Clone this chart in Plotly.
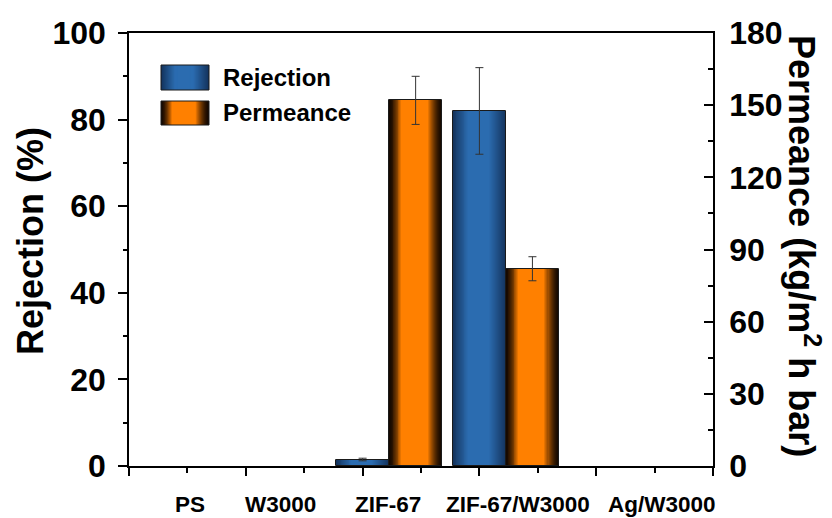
import plotly.graph_objects as go

# ---- data ----
categories = ["PS", "W3000", "ZIF-67", "ZIF-67/W3000", "Ag/W3000"]
rejection = [None, None, 1.5, 82, None]          # %
rejection_err = [None, None, 0.3, 10, None]
permeance = [None, None, 152, 82, None]          # kg/m2 h bar
permeance_err = [None, None, 10, 5, None]

# ---- styling ----
FONT = "Liberation Sans"
BAR_W = 0.454
cat_pos = list(range(len(categories)))
label_pos = [0.52, 1.30, 2.22, 3.33, 4.56]

BLUE_EDGE, BLUE_PEAK = (20, 52, 94), (43, 108, 176)
ORANGE_EDGE, ORANGE_PEAK = (22, 9, 0), (255, 128, 0)


def mix(c0, c1, t):
    return "rgb(%d,%d,%d)" % tuple(round(a + (b - a) * t) for a, b in zip(c0, c1))


def gradient_layers(edge, peak, peak_at, ramp, power, n=22):
    """Nested spans (left, right, colour) across [0, 1] giving a horizontal shading."""
    out = []
    for k in range(n):
        r = 0.75 * k / (n - 1)
        left = peak_at * r
        right = 1 - (1 - peak_at) * r
        t = min(1.0, r / ramp) ** power
        out.append((left, right, mix(edge, peak, t)))
    return out


blue_layers = gradient_layers(BLUE_EDGE, BLUE_PEAK, 0.47, 0.6, 1.0)
orange_layers = gradient_layers(ORANGE_EDGE, ORANGE_PEAK, 0.45, 0.5, 1.6)

fig = go.Figure()


def add_series(values, errors, layers, start, axis):
    for left, right, color in layers:
        fig.add_trace(go.Bar(
            x=cat_pos, y=values, yaxis=axis,
            width=BAR_W * (right - left), offset=start + BAR_W * left,
            marker=dict(color=color, line=dict(width=0)),
            showlegend=False, hoverinfo="skip",
        ))
    fig.add_trace(go.Bar(
        x=cat_pos, y=values, yaxis=axis,
        width=BAR_W, offset=start,
        marker=dict(color="rgba(0,0,0,0)", line=dict(color="#1a1a1a", width=1)),
        error_y=dict(type="data", array=errors, color="#333333", thickness=1, width=4),
        showlegend=False, hoverinfo="skip",
    ))


add_series(rejection, rejection_err, blue_layers, -BAR_W / 2, "y")
add_series(permeance, permeance_err, orange_layers, BAR_W / 2, "y2")

L, R, T, B = 129, 119, 33, 52
W, H = 832, 518
pw, ph = W - L - R, H - T - B


def px_x(x):
    return (x - L) / pw


def px_y(y):
    return (H - B - y) / ph


# legend drawn as shaded boxes with labels
shapes = []
legend_rows = [("Rejection", blue_layers, 65, 90), ("Permeance", orange_layers, 101, 125)]
bx0, bx1 = 161, 209
annotations = []
for name, layers, y0, y1 in legend_rows:
    for left, right, color in layers:
        shapes.append(dict(
            type="rect", xref="paper", yref="paper",
            x0=px_x(bx0 + (bx1 - bx0) * left), x1=px_x(bx0 + (bx1 - bx0) * right),
            y0=px_y(y1), y1=px_y(y0), fillcolor=color, line=dict(width=0), layer="above",
        ))
    shapes.append(dict(
        type="rect", xref="paper", yref="paper",
        x0=px_x(bx0), x1=px_x(bx1), y0=px_y(y1), y1=px_y(y0),
        fillcolor="rgba(0,0,0,0)", line=dict(color="#1a1a1a", width=1), layer="above",
    ))
    annotations.append(dict(
        text=name, xref="paper", yref="paper", x=px_x(221), y=px_y((y0 + y1) / 2),
        xanchor="left", yanchor="middle", showarrow=False,
        font=dict(family=FONT, size=24, color="black", weight="bold"),
    ))

for name, xp in zip(categories, label_pos):
    annotations.append(dict(
        text=name, xref="x", yref="paper", x=xp, y=px_y(504),
        xanchor="center", yanchor="middle", showarrow=False,
        font=dict(family=FONT, size=22.5, color="black", weight="bold"),
    ))

annotations.append(dict(
    text="Rejection (%)", xref="paper", yref="paper", x=px_x(30), y=px_y(241),
    xanchor="center", yanchor="middle", textangle=-90, showarrow=False,
    font=dict(family=FONT, size=36, color="black", weight="bold"),
))
annotations.append(dict(
    text="Permeance (kg/m<sup>2</sup> h bar)", xref="paper", yref="paper",
    x=px_x(804), y=px_y(246), xanchor="center", yanchor="middle",
    textangle=90, showarrow=False,
    font=dict(family=FONT, size=36, color="black", weight="bold"),
))

tickfont = dict(family=FONT, size=32, color="black", weight="bold")

fig.update_layout(
    width=W, height=H,
    margin=dict(l=L, r=R, t=T, b=B),
    paper_bgcolor="white", plot_bgcolor="white",
    barmode="overlay", bargap=0,
    showlegend=False,
    xaxis=dict(
        range=[0, 5], showgrid=False, zeroline=False,
        showline=True, linecolor="black", linewidth=1.5, mirror=True,
        tickmode="array", tickvals=[0, 1, 2, 3, 4, 5], showticklabels=False,
        ticks="outside", ticklen=8, tickwidth=1.5, tickcolor="black",
        minor=dict(tickmode="array", tickvals=[0.5, 1.5, 2.5, 3.5, 4.5],
                   ticks="outside", ticklen=5, tickwidth=1.5, tickcolor="black"),
    ),
    yaxis=dict(
        range=[0, 100], showgrid=False, zeroline=False,
        showline=True, linecolor="black", linewidth=1.5,
        tickmode="array", tickvals=[0, 20, 40, 60, 80, 100],
        ticks="outside", ticklen=9, tickwidth=1.5, tickcolor="black",
        ticklabelstandoff=6, tickfont=tickfont,
        minor=dict(tickmode="array", tickvals=[10, 30, 50, 70, 90],
                   ticks="outside", ticklen=4, tickwidth=1.5, tickcolor="black"),
    ),
    yaxis2=dict(
        range=[0, 180], overlaying="y", side="right", showgrid=False, zeroline=False,
        showline=True, linecolor="black", linewidth=1.5,
        tickmode="array", tickvals=[0, 30, 60, 90, 120, 150, 180],
        ticks="inside", ticklen=9, tickwidth=1.5, tickcolor="black",
        ticklabelstandoff=8, tickfont=tickfont,
        minor=dict(tickmode="array", tickvals=[15, 45, 75, 105, 135, 165],
                   ticks="inside", ticklen=5, tickwidth=1.5, tickcolor="black"),
    ),
    shapes=shapes,
    annotations=annotations,
)

fig.write_html("out.html")
